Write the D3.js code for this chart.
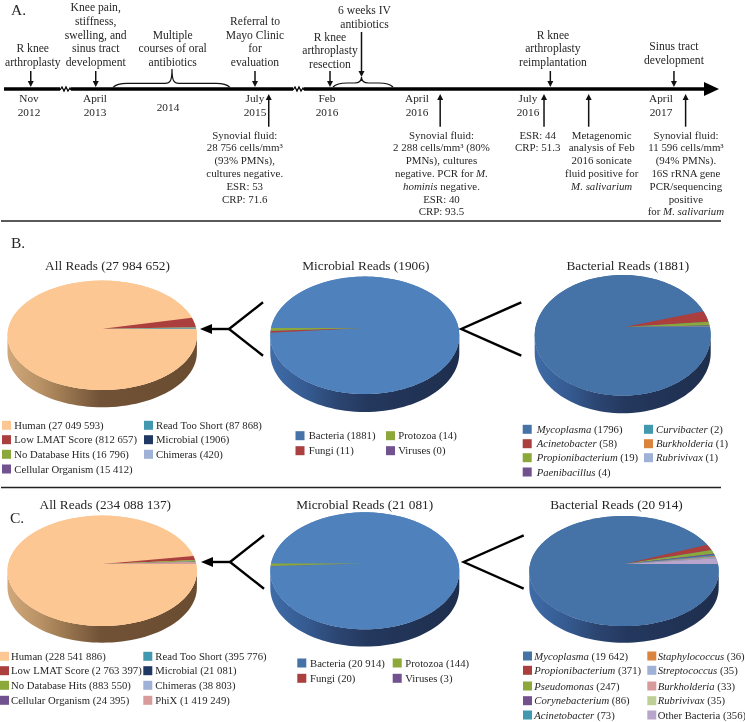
<!DOCTYPE html>
<html>
<head>
<meta charset="utf-8">
<script src="https://cdn.jsdelivr.net/npm/d3@7/dist/d3.min.js"></script>
<style>
html, body { margin: 0; padding: 0; background: #fff; }
svg { display: block; filter: blur(0.3px); }
text { font-family: "Liberation Serif", serif; fill: #262626; }
</style>
</head>
<body>
<div id="chart"></div>
<script>
// pie values, read from the legends
var allNamesB = ["Human", "Low LMAT Score", "No Database Hits", "Cellular Organism", "Read Too Short", "Microbial", "Chimeras"];
var allValuesB = [27049593, 812657, 16796, 15412, 87868, 1906, 420];
var microbialNames = ["Bacteria", "Fungi", "Protozoa", "Viruses"];
var microbialValuesB = [1881, 11, 14, 0];
var bacterialNamesB = ["Mycoplasma", "Acinetobacter", "Propionibacterium", "Paenibacillus", "Curvibacter", "Burkholderia", "Rubrivivax"];
var bacterialValuesB = [1796, 58, 19, 4, 2, 1, 1];

var allNamesC = ["Human", "Low LMAT Score", "No Database Hits", "Cellular Organism", "Read Too Short", "Microbial", "Chimeras", "PhiX"];
var allValuesC = [228541886, 2763397, 883550, 24395, 395776, 21081, 38803, 1419249];
var microbialValuesC = [20914, 20, 144, 3];
var bacterialNamesC = ["Mycoplasma", "Propionibacterium", "Pseudomonas", "Corynebacterium", "Acinetobacter", "Staphylococcus", "Streptococcus", "Burkholderia", "Rubrivivax", "Other Bacteria"];
var bacterialValuesC = [19642, 371, 247, 86, 73, 36, 35, 33, 35, 356];

var allColors = ["#fcc793", "#aa3f3e", "#8ca83a", "#71528f", "#4198af", "#1f3864", "#a0b1d8", "#d89b9b"];
var microbialColors = ["#4f81bd", "#aa3f3e", "#8ca83a", "#71528f"];
var bacterialColors = ["#4572a7", "#aa3f3e", "#8ca83a", "#71528f", "#4198af", "#db843d", "#a0b1d8", "#d89b9b", "#bfd096", "#b9a4cb"];
var notItalic = ["Other Bacteria"];

// timeline: dates along the axis, events estimated from the arrows
var axisDates = ["2012-11-01", "2013-04-01", "2014-01-01", "2014-07-01", "2014-12-31", "2015-07-01", "2016-02-01", "2016-04-01", "2016-07-01", "2017-04-01", "2017-05-15"];
var dateTicks = ["2012-11-01", "2013-04-01", "2014-07-01", "2015-07-01", "2016-02-01", "2016-04-01", "2016-07-01", "2017-04-01"];
var dateLabels = [["Nov", "2012"], ["April", "2013"], ["2014"], ["July", "2015"], ["Feb", "2016"], ["April", "2016"], ["July", "2016"], ["April", "2017"]];

var topDates = ["2012-11-05", "2013-04-12", "2015-07-01", "2016-02-03", "2016-02-24", "2016-08-16", "2017-04-11"];
var topNotes = [
    ["R knee", "arthroplasty"],
    ["Knee pain,", "stiffness,", "swelling, and", "sinus tract", "development"],
    ["Referral to", "Mayo Clinic", "for", "evaluation"],
    ["R knee", "arthroplasty", "resection"],
    ["6 weeks IV", "antibiotics"],
    ["R knee", "arthroplasty", "reimplantation"],
    ["Sinus tract", "development"]
];
var bottomDates = ["2015-08-11", "2016-04-20", "2016-08-03", "2016-11-03", "2017-04-20"];
var bottomNotes = [
    ["Synovial fluid:", "28 756 cells/mm³", "(93% PMNs),", "cultures negative.", "ESR: 53", "CRP: 71.6"],
    ["Synovial fluid:", "2 288 cells/mm³ (80%", "PMNs), cultures", "negative. PCR for *M.*", "*hominis* negative.", "ESR: 40", "CRP: 93.5"],
    ["ESR: 44", "CRP: 51.3"],
    ["Metagenomic", "analysis of Feb", "2016 sonicate", "fluid positive for", "*M. salivarium*"],
    ["Synovial fluid:", "11 596 cells/mm³", "(94% PMNs).", "16S rRNA gene", "PCR/sequencing", "positive", "for *M. salivarium*"]
];
var braceNote = ["Multiple", "courses of oral", "antibiotics"];

var width = 745, height = 722;
var svg = d3.select("#chart").append("svg").attr("width", width).attr("height", height);
var defs = svg.append("defs");

var xTime = d3.scaleTime()
    .domain(axisDates.map(function(d) { return new Date(d); }))
    .range([29, 95, 113, 168, 230, 255, 327, 417, 528, 661, 718]);
function tx(d) { return xTime(new Date(d)); }

function fmt(n) {
    // thin groups, 4 digit numbers stay together like in the figure
    var s = String(n);
    if (s.length <= 4) return s;
    return s.replace(/\B(?=(\d{3})+$)/g, " ");
}

// text with *italic* parts
function richLine(sel, line) {
    line.split("*").forEach(function(part, i) {
        if (part) sel.append("tspan").style("font-style", i % 2 ? "italic" : "normal").text(part);
    });
}

function drawLines(lines, x, firstY, step, size) {
    var g = svg.append("g").attr("font-size", size).attr("text-anchor", "middle");
    lines.forEach(function(line, i) {
        var t = g.append("text").attr("x", x).attr("y", firstY + i * step);
        richLine(t, line);
    });
}

function panelLabel(s, x, y) {
    svg.append("text").attr("x", x).attr("y", y).attr("font-size", 15.5).text(s);
}

//// panel A
var axisY = 89;
var axisSegs = [[4, 60], [71, 293], [304, 706]];
svg.selectAll(".axisSeg").data(axisSegs).enter().append("line")
    .attr("class", "axisSeg")
    .attr("x1", function(d) { return d[0]; })
    .attr("x2", function(d) { return d[1]; })
    .attr("y1", axisY).attr("y2", axisY)
    .attr("stroke", "#000").attr("stroke-width", 3.4);

svg.append("path")
    .attr("d", "M704," + (axisY - 7) + "L719," + axisY + "L704," + (axisY + 7) + "Z")
    .attr("fill", "#000");

[60, 293].forEach(function(x0) {
    var zig = [[x0, axisY + 1], [x0 + 2, axisY - 2], [x0 + 4, axisY + 2], [x0 + 6, axisY - 2], [x0 + 8, axisY + 2], [x0 + 10, axisY - 1], [x0 + 11, axisY + 1]];
    svg.append("path").attr("d", d3.line()(zig)).attr("fill", "none").attr("stroke", "#000").attr("stroke-width", 1.3);
});

function vArrow(x, y0, y1) {
    var dir = y1 > y0 ? 1 : -1;
    svg.append("line").attr("x1", x).attr("x2", x).attr("y1", y0).attr("y2", y1 - dir * 3)
        .attr("stroke", "#111").attr("stroke-width", 1.5);
    svg.append("path")
        .attr("d", "M" + (x - 3) + "," + (y1 - dir * 6) + "L" + x + "," + y1 + "L" + (x + 3) + "," + (y1 - dir * 6) + "Z")
        .attr("fill", "#111");
}

function brace(x0, x1, xm, yb, yf, yp) {
    return "M" + x0 + "," + yb + "C" + (x0 + 3) + "," + (yb - 3) + " " + (x0 + 6) + "," + yf + " " + (x0 + 14) + "," + yf
        + "L" + (xm - 7) + "," + yf + "C" + (xm - 2) + "," + yf + " " + xm + "," + (yf - 2) + " " + xm + "," + yp
        + "C" + xm + "," + (yf - 2) + " " + (xm + 2) + "," + yf + " " + (xm + 7) + "," + yf
        + "L" + (x1 - 14) + "," + yf + "C" + (x1 - 6) + "," + yf + " " + (x1 - 3) + "," + (yb - 3) + " " + x1 + "," + yb;
}

var noteSize = 11.6;
var bottomSize = 10.9;
var noteStep = 13.7;
var topBase = [66, 66, 66, 68, 28, 66, 64];
var topDx = [2, 0, 0, 0, 3, 2.6, 0];
var topTail = [71, 71, 71, 71, 32, 71, 71];
var topTip = [87, 87, 87, 87, 77, 87, 87];

topNotes.forEach(function(lines, i) {
    var x = tx(topDates[i]);
    var step = i == 4 ? 14.5 : noteStep;
    drawLines(lines, x + topDx[i], topBase[i] - (lines.length - 1) * step, step, noteSize);
    vArrow(x, topTail[i], topTip[i]);
});

svg.append("path").attr("d", brace(tx("2014-01-01"), tx("2014-12-31"), 172, 87.3, 83.3, 69))
    .attr("fill", "none").attr("stroke", "#111").attr("stroke-width", 1.2);
svg.append("path").attr("d", brace(tx("2016-02-05"), tx("2016-03-16"), tx("2016-02-24"), 87, 83, 77))
    .attr("fill", "none").attr("stroke", "#111").attr("stroke-width", 1.2);
drawLines(braceNote, 172.7, 66 - 2 * noteStep, noteStep, noteSize);

dateLabels.forEach(function(lines, i) {
    var first = lines.length == 1 ? 111 : 102;
    drawLines(lines, tx(dateTicks[i]), first, 14, 11.3);
});

var bottomDx = [-24, 1.3, -6.3, 13, 0.3];
bottomNotes.forEach(function(lines, i) {
    var x = tx(bottomDates[i]);
    drawLines(lines, x + bottomDx[i], 138.5, 12.8, bottomSize);
    vArrow(x, 126.7, 94);
});

panelLabel("A.", 11, 15);
panelLabel("B.", 11, 248);
panelLabel("C.", 10, 523);

[221, 487.5].forEach(function(y) {
    svg.append("line").attr("x1", 1).attr("x2", 721).attr("y1", y).attr("y2", y)
        .attr("stroke", "#222").attr("stroke-width", 1.4);
});

//// pies
function wallGradient(id, stops) {
    var g = defs.append("linearGradient").attr("id", id).attr("x1", 0).attr("x2", 1).attr("y1", 0).attr("y2", 0);
    stops.forEach(function(s) {
        g.append("stop").attr("offset", s[0]).attr("stop-color", s[1]);
    });
}
wallGradient("wallPeach", [[0, "#d0a87b"], [0.18, "#b79064"], [0.3, "#9c7851"], [0.49, "#715237"], [1, "#6a4c31"]]);
wallGradient("wallBlue", [[0, "#3f6ca8"], [0.2, "#355a90"], [0.35, "#2c4672"], [0.52, "#24385e"], [1, "#1e2e4d"]]);

// the figure's pies are tilted in perspective, so the apex is not the ellipse centre
function ellipsePoint(p, a) {
    var dx = Math.sin(a), dy = -Math.cos(a);
    var px = (p.ax - p.cx) / p.rx, py = (p.ay - p.cy) / p.ry;
    var b = px * dx + py * dy;
    var t = -b + Math.sqrt(b * b - (px * px + py * py - 1));
    return [p.cx + (px + t * dx) * p.rx, p.cy + (py + t * dy) * p.ry];
}

function drawPie(p, values, colors) {
    var lineGen = d3.line();

    var lower = d3.range(0, 181, 3).map(function(deg) {
        var a = deg * Math.PI / 180;
        return [p.cx - Math.cos(a) * p.rx, p.cy + Math.sin(a) * p.ry];
    });
    var wall = lower.concat(lower.slice().reverse().map(function(q) { return [q[0], q[1] + p.depth]; }));
    svg.append("path").attr("d", lineGen(wall) + "Z").attr("fill", "url(#" + p.wall + ")");

    svg.append("ellipse")
        .attr("cx", p.cx).attr("cy", p.cy).attr("rx", p.rx).attr("ry", p.ry)
        .attr("fill", colors[0]);

    var arcs = d3.pie().sort(null)
        .startAngle(p.start)
        .endAngle(p.start + 2 * Math.PI)(values);

    svg.append("g").selectAll("path").data(arcs).enter().append("path")
        .attr("fill", function(d, i) { return colors[i]; })
        .attr("d", function(d) {
            var n = Math.max(2, Math.ceil((d.endAngle - d.startAngle) / 0.02));
            var pts = [[p.ax, p.ay]];
            for (var k = 0; k <= n; k++) {
                pts.push(ellipsePoint(p, d.startAngle + (d.endAngle - d.startAngle) * k / n));
            }
            return lineGen(pts) + "Z";
        });
}

function drawLegend(l, names, values, colors) {
    var g = svg.append("g").attr("font-size", l.size);
    names.forEach(function(name, i) {
        var col = i < l.rows ? 0 : 1;
        var row = col ? i - l.rows : i;
        var y = l.ys[row];
        g.append("rect").attr("x", l.swatch[col]).attr("y", y - 4.5).attr("width", 9).attr("height", 9)
            .attr("fill", i == 0 && colors == microbialColors ? "#4572a7" : colors[i]);
        var t = g.append("text").attr("x", l.label[col]).attr("y", y + 3.5);
        var ital = l.italic && notItalic.indexOf(name) < 0;
        t.append("tspan").style("font-style", ital ? "italic" : "normal").text(name);
        t.append("tspan").text(" (" + fmt(values[i]) + ")");
    });
}

function title(s, x, y) {
    svg.append("text").attr("x", x).attr("y", y).attr("text-anchor", "middle").attr("font-size", 13.3).text(s);
}

function fork(x, y, xEnd, dy) {
    svg.append("path")
        .attr("d", d3.line()([[xEnd, y - dy], [x, y], [xEnd, y + dy]]))
        .attr("fill", "none").attr("stroke", "#000").attr("stroke-width", 2.4);
}

var East = Math.PI / 2, West = 3 * Math.PI / 2;

// row B
title("All Reads (27 984 652)", 107.5, 270);
title("Microbial Reads (1906)", 365.8, 270);
title("Bacterial Reads (1881)", 627.8, 270);

drawPie({cx: 102.2, cy: 335.3, rx: 94.7, ry: 54.7, ax: 102.7, ay: 328.7, depth: 17.3, start: East, wall: "wallPeach"}, allValuesB, allColors);
drawPie({cx: 364.8, cy: 335.3, rx: 94.5, ry: 58.7, ax: 363, ay: 328, depth: 18, start: West, wall: "wallBlue"}, microbialValuesB, microbialColors);
drawPie({cx: 622.7, cy: 335.3, rx: 88, ry: 60.3, ax: 624.3, ay: 327, depth: 17.7, start: East, wall: "wallBlue"}, bacterialValuesB, bacterialColors);

drawLegend({size: 10.7, rows: 4, ys: [425.3, 439.7, 454.3, 469], swatch: [2, 144], label: [14.3, 156]}, allNamesB, allValuesB, allColors);
drawLegend({size: 10.7, rows: 2, ys: [435.7, 450.7], swatch: [295.5, 386], label: [308.7, 398.3]}, microbialNames, microbialValuesB, microbialColors);
drawLegend({size: 10.7, rows: 4, ys: [429.3, 443.7, 457.7, 472], swatch: [522.7, 644], label: [536.7, 656], italic: true}, bacterialNamesB, bacterialValuesB, bacterialColors);

fork(229, 329, 263, 26.7);
svg.append("line").attr("x1", 208).attr("x2", 229).attr("y1", 329).attr("y2", 329).attr("stroke", "#000").attr("stroke-width", 2.4);
svg.append("path").attr("d", "M200,329L212,324L212,334Z").attr("fill", "#000");
fork(461.3, 329, 521.3, 26.7);

// row C
title("All Reads (234 088 137)", 105.3, 509);
title("Microbial Reads (21 081)", 364.7, 508.5);
title("Bacterial Reads (20 914)", 616.5, 508.5);

drawPie({cx: 102.2, cy: 570.8, rx: 94.7, ry: 55.2, ax: 102.7, ay: 564, depth: 16.7, start: East, wall: "wallPeach"}, allValuesC, allColors);
drawPie({cx: 364.8, cy: 570.8, rx: 94.5, ry: 58.5, ax: 363, ay: 563.5, depth: 17.3, start: West, wall: "wallBlue"}, microbialValuesC, microbialColors);
drawPie({cx: 624, cy: 571, rx: 94.7, ry: 55, ax: 624.3, ay: 564, depth: 16.7, start: East, wall: "wallBlue"}, bacterialValuesC, bacterialColors);

drawLegend({size: 10.7, rows: 4, ys: [656.3, 670.7, 685.3, 700.3], swatch: [0, 143.3], label: [11, 155.3]}, allNamesC, allValuesC, allColors);
drawLegend({size: 10.7, rows: 2, ys: [663, 678.3], swatch: [297.3, 392.7], label: [310, 405.3]}, microbialNames, microbialValuesC, microbialColors);
drawLegend({size: 10.7, rows: 5, ys: [656, 670.3, 686, 700.7, 715], swatch: [523, 647.3], label: [534.3, 657.7], italic: true}, bacterialNamesC, bacterialValuesC, bacterialColors);

fork(230, 562, 264, 26.7);
svg.append("line").attr("x1", 209).attr("x2", 230).attr("y1", 562).attr("y2", 562).attr("stroke", "#000").attr("stroke-width", 2.4);
svg.append("path").attr("d", "M201,562L213,557L213,567Z").attr("fill", "#000");
fork(463.7, 562, 523.7, 26.7);
</script>
</body>
</html>
